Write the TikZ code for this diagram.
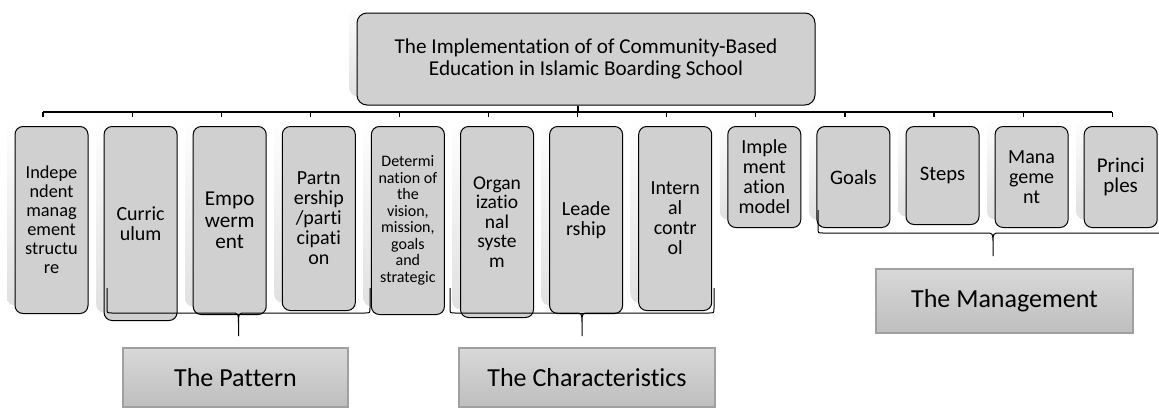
\documentclass[tikz,border=0pt]{standalone}
\usepackage{fontspec}
\setmainfont{Carlito}[Ligatures=NoCommon]
\usetikzlibrary{shadows}
\definecolor{boxgray}{RGB}{208,208,208}
\definecolor{tagtop}{RGB}{216,216,216}
\definecolor{tagbot}{RGB}{190,190,190}
\definecolor{tagedge}{RGB}{160,160,160}

\begin{document}
\begin{tikzpicture}[x=1pt,y=-1pt,
    topic/.style={draw=black, line width=1pt, rounded corners=8pt, fill=boxgray,
        anchor=north, minimum width=73, inner sep=0pt, align=center,
        general shadow={shadow xshift=-8pt, shadow yshift=8pt, top color=white, bottom color=black!12}},
    tagbox/.style={draw=tagedge, line width=1.2pt, top color=tagtop, bottom color=tagbot,
        inner sep=0pt, align=center, font=\fontsize{26}{30}\selectfont},
    conn/.style={line width=1.2pt},
    brc/.style={line width=1pt}]
    \useasboundingbox (0,0) rectangle (1159,408);
    \clip (0,0) rectangle (1159,408);

    \node[topic, anchor=center, minimum width=458, minimum height=92, rounded corners=10pt,
        font=\fontsize{21.2}{22}\selectfont] (top) at (586,59)
        {The Implementation of of Community-Based\\Education in Islamic Boarding School};

    \foreach \x/\h/\fs/\ls/\txt [count=\i] in {
        51.5/187/18.3/19/{Indepe\\ndent\\manag\\ement\\structu\\re},
        140.6/194/20/20.5/{Curric\\ulum},
        229.7/188/21.2/21.5/{Empo\\werm\\ent},
        318.8/184/20/20/{Partn\\ership\\/parti\\cipati\\on},
        407.9/188/16/16.5/{Determi\\nation of\\the\\vision,\\mission,\\goals\\and\\strategic},
        497/191/19.5/19.6/{Organ\\izatio\\nal\\syste\\m},
        586.1/187/20/20/{Leade\\rship},
        675.2/184/20/20/{Intern\\al\\contr\\ol},
        764.3/101/20/20/{Imple\\ment\\ation\\model},
        853.4/101/20.6/20/{Goals},
        942.5/98/20.6/20/{Steps},
        1031.6/101/20/20/{Mana\\geme\\nt},
        1120.7/101/21/20/{Princi\\ples}}{
        \node[topic, minimum height=\h, font=\fontsize{\fs}{\ls}\selectfont] (b\i) at (\x,126) {\txt};
        \coordinate (t\i) at ([xshift=-8.5pt]b\i.north);
    }

    % tree lines
    \coordinate (bus) at (578,112);
    \draw[conn] ([xshift=-8pt]top.south) -- (bus);
    \draw[conn] (t1 |- bus) -- (t13 |- bus);
    \foreach \i in {1,...,13}
        \draw[conn] (t\i |- bus) -- ++(0,5);

    % braces
    \foreach \l/\r/\tp/\y in {107/370/288/313, 450/714/288/313, 818/1168/210/233}{
        \pgfmathsetmacro\c{(\l+\r)/2}
        \draw[brc] (\l,\tp) -- (\l,\y-5) .. controls (\l,\y) .. (\l+5,\y) -- (\c-7,\y)
            .. controls (\c,\y) .. (\c,\y+11) -- (\c,\y+23)
            (\r,\tp) -- (\r,\y-5) .. controls (\r,\y) .. (\r-5,\y) -- (\c+7,\y)
            .. controls (\c,\y) .. (\c,\y+11);
    }

    \node[tagbox, minimum width=225, minimum height=59] (pat) at (235.5,377.5) {The Pattern};
    \node[tagbox, minimum width=256, minimum height=59] (chr) at (587,377.5) {The Characteristics};
    \node[tagbox, minimum width=257, minimum height=64] (mng) at (1004.5,301) {The Management};
\end{tikzpicture}
\end{document}
